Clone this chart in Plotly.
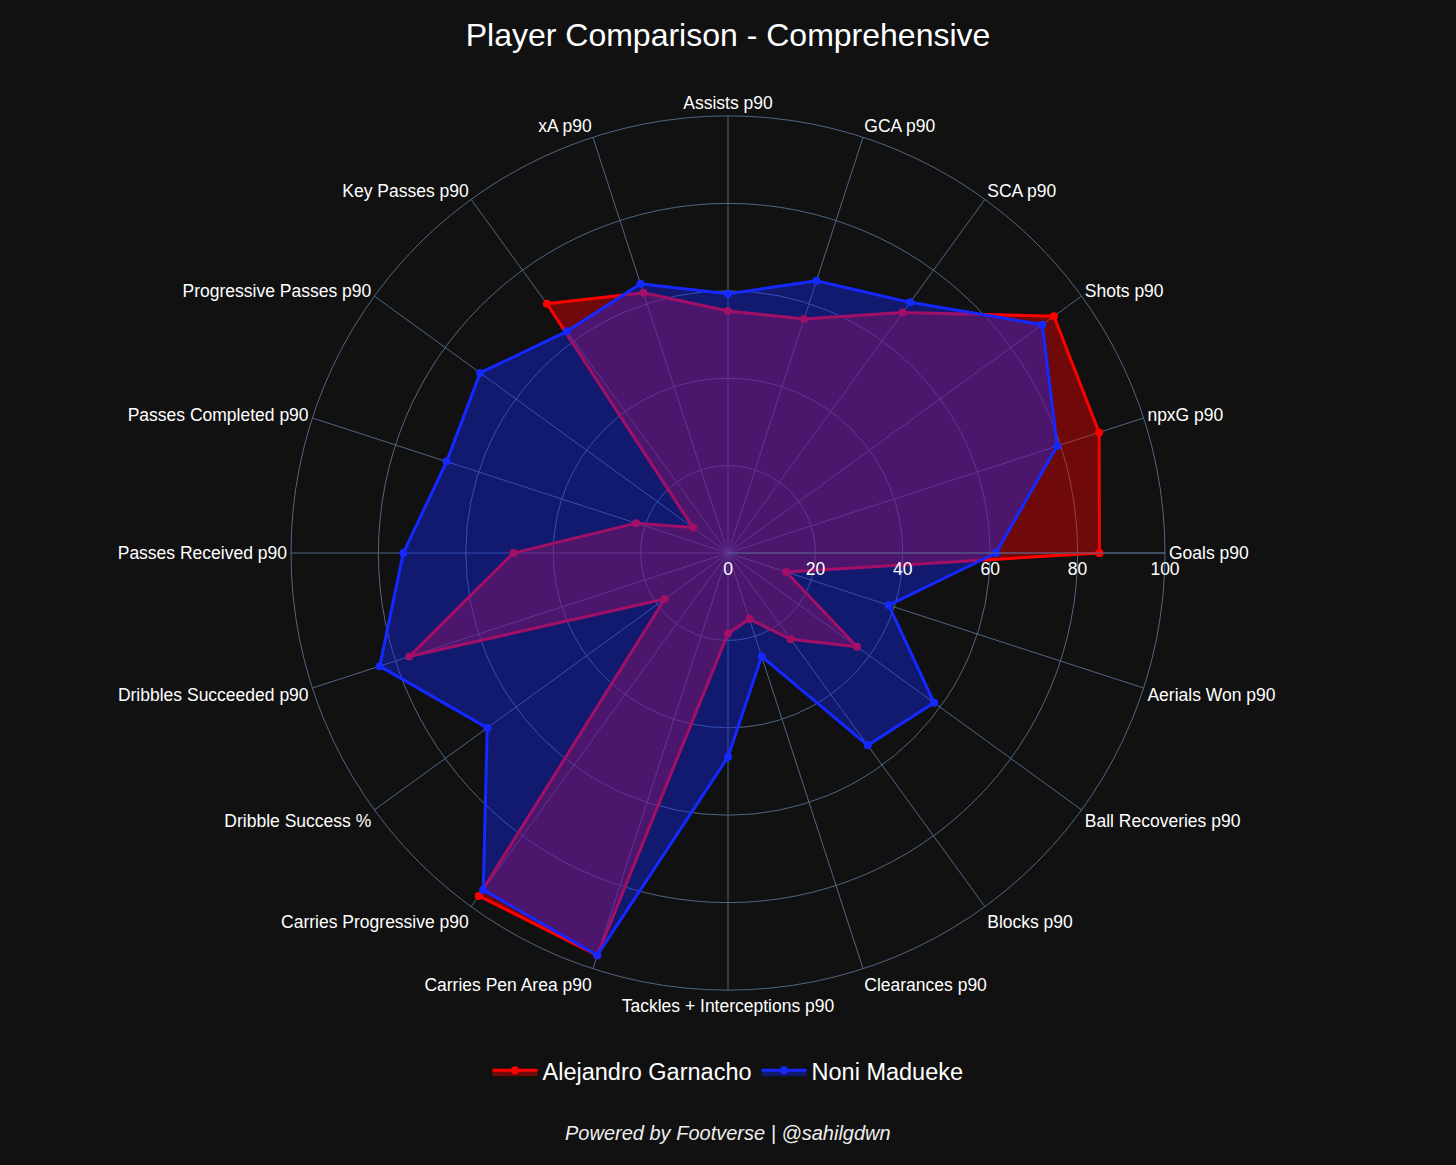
import plotly.graph_objects as go

categories = [
    "Goals p90", "npxG p90", "Shots p90", "SCA p90", "GCA p90",
    "Assists p90", "xA p90", "Key Passes p90", "Progressive Passes p90",
    "Passes Completed p90", "Passes Received p90", "Dribbles Succeeded p90",
    "Dribble Success %", "Carries Progressive p90", "Carries Pen Area p90",
    "Tackles + Interceptions p90", "Clearances p90", "Blocks p90",
    "Ball Recoveries p90", "Aerials Won p90",
]

garnacho = [85, 89.3, 92.2, 68, 56.3, 55.4, 62.6, 70.5, 9.9, 22.1,
            49.1, 76.7, 17.9, 97, 96.8, 18.4, 15.9, 24.4, 36.5, 14]
madueke = [61.3, 79.2, 88.9, 70.9, 65.5, 59.3, 64.8, 62.7, 70.1, 67.7,
           74.3, 83.8, 68.1, 95.3, 96.8, 46.7, 24.9, 54.4, 58.3, 38.7]

radial_ticks = [0, 20, 40, 60, 80, 100]

FONT = "Liberation Sans, Arial, sans-serif"

fig = go.Figure()
fig.add_trace(go.Scatterpolar(
    r=garnacho + garnacho[:1], theta=categories + categories[:1],
    name="Alejandro Garnacho", mode="lines+markers", fill="toself",
    line=dict(color="rgb(255,0,0)", width=3),
    marker=dict(size=8, color="rgb(255,0,0)"),
    fillcolor="rgba(255,0,0,0.4)",
))
fig.add_trace(go.Scatterpolar(
    r=madueke + madueke[:1], theta=categories + categories[:1],
    name="Noni Madueke", mode="lines+markers", fill="toself",
    line=dict(color="rgb(20,40,255)", width=3),
    marker=dict(size=8, color="rgb(20,40,255)"),
    fillcolor="rgba(20,40,255,0.4)",
))

fig.update_layout(
    template="plotly_dark",
    width=1456, height=1165,
    paper_bgcolor="#111111", plot_bgcolor="#111111",
    font=dict(family=FONT, color="white", size=17.5),
    margin=dict(l=80, r=80, t=116, b=175),
    title=dict(text="Player Comparison - Comprehensive", x=0.5, xanchor="center",
               y=1 - 35 / 1165, yanchor="middle", yref="container",
               font=dict(size=32, color="white", family=FONT)),
    polar=dict(
        bgcolor="#111111",
        radialaxis=dict(range=[0, 100], tickvals=radial_ticks, visible=True,
                        gridcolor="#506784", linecolor="#506784",
                        tickfont=dict(size=17.5, color="white")),
        angularaxis=dict(gridcolor="#506784", linecolor="#506784",
                         tickfont=dict(size=17.5, color="white"),
                         direction="counterclockwise", rotation=0),
    ),
    legend=dict(orientation="h", x=0.5, xanchor="center", y=-0.067, yanchor="top",
                itemwidth=45,
                font=dict(size=23.5, color="white"), bgcolor="rgba(0,0,0,0)"),
    annotations=[dict(text="<i>Powered by Footverse | @sahilgdwn</i>",
                      x=0.5, xref="paper", y=-143 / 874, yref="paper",
                      xanchor="center", yanchor="middle", showarrow=False,
                      font=dict(size=20, color="#eeeeee", family=FONT))],
)

fig.write_html("out.html")
